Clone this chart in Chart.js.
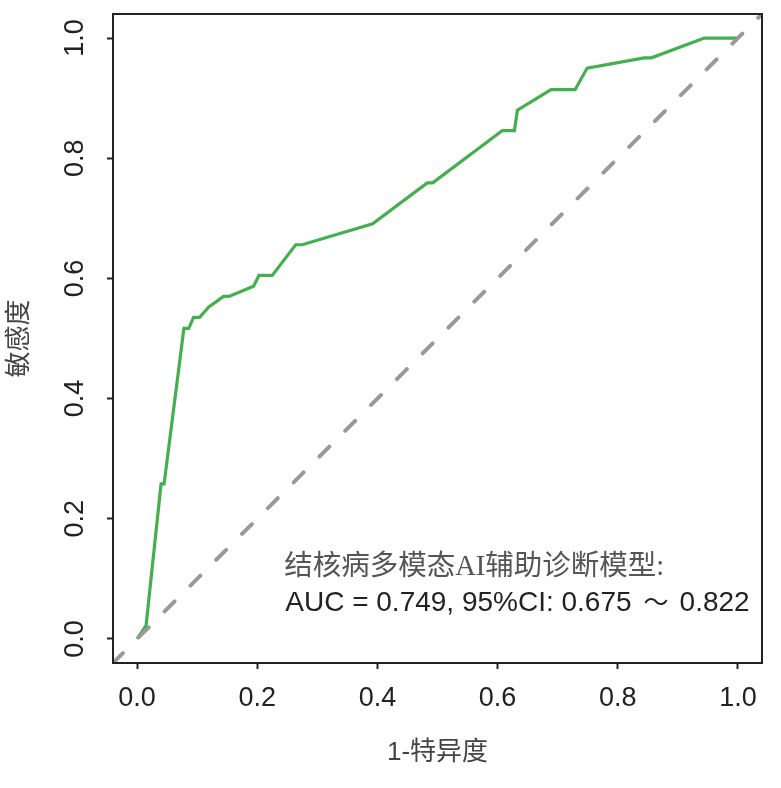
<!DOCTYPE html>
<html>
<head>
<meta charset="utf-8">
<script src="https://cdn.jsdelivr.net/npm/chart.js@4.4.1/dist/chart.umd.min.js"></script>
<style>
  html, body { margin: 0; padding: 0; background: #fff; }
  #wrap { width: 781px; height: 788px; }
</style>
</head>
<body>
<div id="wrap"><canvas id="rocChart"></canvas></div>
<script>
// ROC curve points
const fpr = [0, 0.015, 0.040, 0.045, 0.078, 0.086, 0.094, 0.104, 0.119, 0.144, 0.153, 0.194, 0.203, 0.225,
    0.264, 0.275, 0.392, 0.483, 0.492, 0.608, 0.628, 0.633, 0.689, 0.729, 0.749, 0.844, 0.856, 0.944, 1.0];
const tpr = [0, 0.022, 0.258, 0.258, 0.517, 0.517, 0.535, 0.535, 0.552, 0.570, 0.570, 0.587, 0.605, 0.605,
    0.656, 0.656, 0.691, 0.759, 0.759, 0.846, 0.846, 0.880, 0.914, 0.914, 0.950, 0.967, 0.967, 1.0, 1.0];
const diagX = [-0.04, 1.04];
const diagY = [-0.04, 1.04];
const tickValues = [0, 0.2, 0.4, 0.6, 0.8, 1.0];
const modelName = '结核病多模态AI辅助诊断模型:';
const aucParts = ['AUC = 0.749, 95%CI: 0.675', '\uFF5E', '0.822'];

const inkColor = '#222222';
const greenColor = '#43b04d';
const dashColor = '#9a9a9a';

const toPoints = (xs, ys) => xs.map((x, i) => ({ x: x, y: ys[i] }));
const setTicks = (scale) => { scale.ticks = tickValues.map(v => ({ value: v })); };

// box, rotated y labels and the AUC note
const frame = {
    id: 'frame',
    afterDraw(chart) {
        const { ctx, chartArea: a, scales } = chart;
        ctx.save();
        ctx.strokeStyle = inkColor;
        ctx.lineWidth = 2;
        ctx.strokeRect(a.left, a.top, a.right - a.left, a.bottom - a.top);

        ctx.fillStyle = inkColor;
        ctx.font = '27px "Liberation Sans", Arial, sans-serif';
        ctx.textAlign = 'center';
        ctx.textBaseline = 'alphabetic';
        scales.y.ticks.forEach(t => {
            const py = scales.y.getPixelForValue(t.value);
            ctx.save();
            ctx.translate(83, py);
            ctx.rotate(-Math.PI / 2);
            ctx.fillText(t.value.toFixed(1), 0, 0);
            ctx.restore();
        });

        ctx.textAlign = 'left';
        const ax = scales.x.getPixelForValue(0.245);
        ctx.fillStyle = '#555555';
        ctx.font = '28.5px "Liberation Serif", "Noto Sans CJK SC", serif';
        ctx.fillText(modelName, ax, 575);

        // AUC line, with wider gaps round the tilde
        ctx.fillStyle = inkColor;
        let cx = ax + 1;
        ctx.font = '28px "Liberation Sans", Arial, sans-serif';
        ctx.fillText(aucParts[0], cx, 611);
        cx += ctx.measureText(aucParts[0]).width + 12;
        ctx.font = '25px "Noto Sans CJK SC", sans-serif';
        ctx.fillText(aucParts[1], cx, 611);
        cx += ctx.measureText(aucParts[1]).width + 11;
        ctx.font = '28px "Liberation Sans", Arial, sans-serif';
        ctx.fillText(aucParts[2], cx, 611);
        ctx.restore();
    }
};

new Chart(document.getElementById('rocChart'), {
    type: 'scatter',
    data: {
        datasets: [
            {
                data: toPoints(diagX, diagY),
                showLine: true,
                borderColor: dashColor,
                borderWidth: 4,
                borderDash: [14, 22.5],
                borderCapStyle: 'round',
                pointRadius: 0
            },
            {
                data: toPoints(fpr, tpr),
                showLine: true,
                borderColor: greenColor,
                borderWidth: 3.2,
                borderJoinStyle: 'miter',
                pointRadius: 0,
                tension: 0
            }
        ]
    },
    options: {
        responsive: true,
        maintainAspectRatio: false,
        animation: false,
        layout: {
            padding: { top: 14, right: 19, left: 0, bottom: 0 }
        },
        plugins: {
            legend: { display: false },
            tooltip: { enabled: false }
        },
        scales: {
            x: {
                type: 'linear',
                min: -0.04,
                max: 1.04,
                afterBuildTicks: setTicks,
                afterFit: (scale) => { scale.height = 125; },
                border: { display: false },
                grid: {
                    drawOnChartArea: false,
                    drawTicks: true,
                    tickLength: 6,
                    tickWidth: 2,
                    tickColor: inkColor
                },
                ticks: {
                    color: inkColor,
                    padding: 13,
                    maxRotation: 0,
                    font: { family: '"Liberation Sans", Arial, sans-serif', size: 27 },
                    callback: (v) => Number(v).toFixed(1)
                },
                title: {
                    display: true,
                    text: '1-特异度',
                    color: '#444444',
                    padding: { top: 0, bottom: 20 },
                    font: { family: '"Liberation Sans", "Noto Sans CJK SC", sans-serif', size: 26 }
                }
            },
            y: {
                type: 'linear',
                min: -0.04,
                max: 1.04,
                afterBuildTicks: setTicks,
                afterFit: (scale) => { scale.width = 113; },
                border: { display: false },
                grid: {
                    drawOnChartArea: false,
                    drawTicks: true,
                    tickLength: 6,
                    tickWidth: 2,
                    tickColor: inkColor
                },
                ticks: { display: false },
                title: {
                    display: true,
                    text: '敏感度',
                    color: '#444444',
                    padding: { top: 2, bottom: 0 },
                    font: { family: '"Noto Sans CJK SC", sans-serif', size: 26 }
                }
            }
        }
    },
    plugins: [frame]
});
</script>
</body>
</html>
